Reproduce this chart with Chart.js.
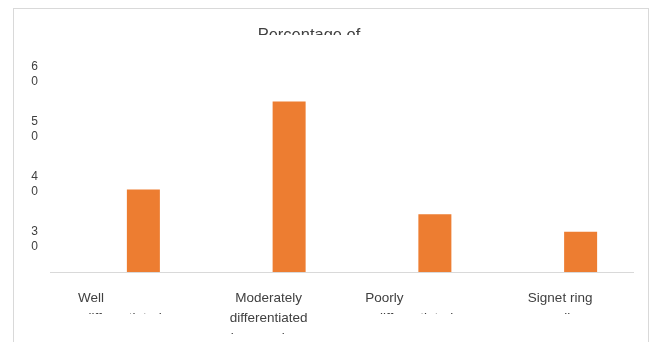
<!DOCTYPE html>
<html>
<head>
<meta charset="utf-8">
<script src="https://cdn.jsdelivr.net/npm/chart.js@4/dist/chart.umd.min.js"></script>
<style>
  html, body { margin: 0; padding: 0; background: #ffffff; overflow: hidden; width: 653px; height: 342px; }
  #frame { position: absolute; left: 13px; top: 8px; width: 636px; height: 400px; border: 1px solid #d9d9d9; box-sizing: border-box; }
  #chart { position: absolute; left: -15px; top: 9px; }
</style>
</head>
<body>
<div id="frame"></div>
<canvas id="chart" width="668" height="360"></canvas>
<script>
// Category labels, one array of lines per category
// (the first line of some labels keeps its trailing spaces from the wrapped text)
const categories = [
  ["Well".padEnd(21), "differentiated", "adenocarcinoma"],
  ["Moderately", "differentiated", "adenocarcinoma"],
  ["Poorly".padEnd(22), "differentiated", "adenocarcinoma"],
  ["Signet ring", "cell", "carcinoma"]
];
// First series carries no values; second series holds the percentages
const emptySeries = [null, null, null, null];
const percentages = [39, 55, 34.5, 31.3];
// Value axis ticks
const yTicks = [30, 40, 50, 60];
// Lines of each category label left visible below the axis
const visibleLines = [1, 2, 1, 1];

const FONT = "'Liberation Sans', Arial, sans-serif";
const TEXT = '#404040';
const X_PAD = 16;
const X_LINE = 20;

// Clips the title and category labels to their text boxes
const textBoxClip = {
  id: 'textBoxClip',
  beforeDraw(chart) {
    const { ctx, width, height, chartArea } = chart;
    const x = chart.scales.x;
    const path = new Path2D();
    path.rect(0, 0, width, height);
    // title box bottom
    path.rect(0, 26, width, chartArea.top - 30);
    // category label boxes
    const n = categories.length;
    for (let i = 0; i < n; i++) {
      const c = x.getPixelForValue(i);
      const left = i === 0 ? 0 : (c + x.getPixelForValue(i - 1)) / 2;
      const right = i === n - 1 ? width : (c + x.getPixelForValue(i + 1)) / 2;
      const cut = x.top + X_PAD + visibleLines[i] * X_LINE + 6;
      path.rect(left, cut, right - left, height - cut);
    }
    ctx.save();
    ctx.clip(path, 'evenodd');
  },
  afterDraw(chart) {
    chart.ctx.restore();
  }
};

new Chart(document.getElementById('chart'), {
  type: 'bar',
  data: {
    labels: categories,
    datasets: [
      { label: 'Cases', data: emptySeries, backgroundColor: '#4472C4' },
      { label: 'Percentage', data: percentages, backgroundColor: '#ED7D31', borderWidth: 0 }
    ]
  },
  options: {
    responsive: false,
    animation: false,
    categoryPercentage: 0.5626,
    barPercentage: 0.805,
    layout: { padding: { left: 0, right: 20, top: 0, bottom: 5 } },
    plugins: {
      legend: { display: false },
      tooltip: { enabled: false },
      title: {
        display: true,
        text: 'Percentage of',
        color: TEXT,
        font: { family: FONT, size: 16.5, weight: 'normal', lineHeight: 1.2 },
        padding: { top: 17, bottom: 17.2 }
      }
    },
    scales: {
      x: {
        grid: { display: false, drawTicks: false },
        border: { display: true, color: '#d9d9d9', width: 1 },
        ticks: {
          color: TEXT,
          padding: X_PAD,
          maxRotation: 0,
          autoSkip: false,
          font: { family: FONT, size: 13.5, lineHeight: X_LINE / 13.5 }
        }
      },
      y: {
        min: 24,
        max: 62,
        grid: { display: false, drawTicks: false },
        border: { display: false },
        afterBuildTicks(scale) {
          scale.ticks = yTicks.map(v => ({ value: v }));
        },
        afterFit(scale) { scale.width = 65; },
        ticks: {
          color: TEXT,
          padding: 12,
          font: { family: FONT, size: 12, lineHeight: 1.29 },
          callback: v => String(v).split('')
        }
      }
    }
  },
  plugins: [textBoxClip]
});
</script>
</body>
</html>
